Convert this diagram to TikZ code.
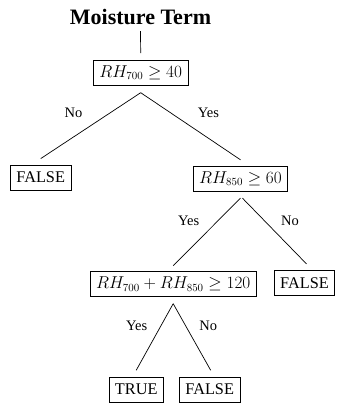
\documentclass[tikz,border=0pt]{standalone}
\usepackage[no-math]{fontspec}
\setmainfont{Liberation Serif}
\usetikzlibrary{calc}
\begin{document}
\begin{tikzpicture}[x=1bp,y=-1bp,
  box/.style={draw,line width=0.8bp,inner xsep=6bp,inner ysep=2bp,minimum height=25bp,
    font=\fontsize{16.3bp}{19bp}\selectfont},
  lbl/.style={inner sep=0pt,font=\fontsize{14.5bp}{17bp}\selectfont},
  conn/.style={line width=0.7bp}]
\useasboundingbox (0,0) rectangle (338,404);
\node[anchor=base,inner sep=0pt,font=\fontsize{22bp}{26bp}\selectfont\bfseries] (title) at (140.5,24) {Moisture Term};
\node[box] (n1) at (140.7,72.8) {$RH_{700}\geq 40$};
\node[box] (f1) at (40.7,177.5) {FALSE};
\node[box] (n2) at (240.5,178.7) {$RH_{850}\geq 60$};
\node[box] (n3) at (173.2,284.2) {$RH_{700}+RH_{850}\geq 120$};
\node[box] (f2) at (304.5,283.3) {FALSE};
\node[box] (t1) at (136.2,389.5) {TRUE};
\node[box] (f3) at (209.7,389.5) {FALSE};
\draw[conn] ($(title.base)+(0,7)$) -- ($(n1.north)+(0,-6.7)$);
\draw[conn] ($(n1.south)+(0,7)$) -- ($(f1.north)+(0,-6)$);
\draw[conn] ($(n1.south)+(0,7)$) -- ($(n2.north)+(0,-6)$);
\draw[conn] ($(n2.south)+(0,6.6)$) -- ($(n3.north)+(0,-5.7)$);
\draw[conn] ($(n2.south)+(2,6.6)$) -- ($(f2.north)+(2,-6.5)$);
\draw[conn] ($(n3.south)+(0,6.6)$) -- ($(t1.north)+(0,-6.3)$);
\draw[conn] ($(n3.south)+(0,6.6)$) -- ($(f3.north)+(1,-6.3)$);
\node[lbl] (l1) at (73.5,113) {No};
\node[lbl] (l2) at (208.5,113) {Yes};
\node[lbl] (l3) at (188.7,220.8) {Yes};
\node[lbl] (l4) at (290,220.8) {No};
\node[lbl] (l5) at (136.7,325.8) {Yes};
\node[lbl] (l6) at (208.3,325.8) {No};
\end{tikzpicture}
\end{document}
